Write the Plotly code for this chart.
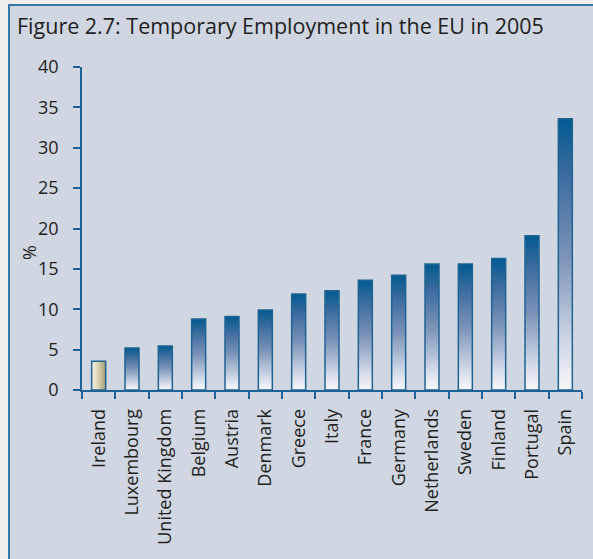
import plotly.graph_objects as go

# Temporary employment as a share of total employment, 2005 (%)
countries = ["Ireland", "Luxembourg", "United Kingdom", "Belgium", "Austria",
             "Denmark", "Greece", "Italy", "France", "Germany", "Netherlands",
             "Sweden", "Finland", "Portugal", "Spain"]
values = [3.55, 5.2, 5.45, 8.8, 9.1, 9.9, 11.9, 12.3, 13.6, 14.2, 15.6,
          15.6, 16.3, 19.1, 33.6]
highlight = "Ireland"
y_ticks = [0, 5, 10, 15, 20, 25, 30, 35, 40]

FONT = "Open Sans"
TEXT = "#231f20"
AXIS = "#1d6197"
PANEL = "#d0d7e3"
OUTER = "#efeeea"
HALF_W = 0.21

blue_scale = [[0.0, "#f7f8fb"], [0.15, "#d6dcea"], [0.5, "#7a92b8"],
              [0.8, "#3a6b9e"], [1.0, "#005a91"]]
beige_scale = [[0.0, "#f6f4e8"], [0.5, "#d6d0b0"], [1.0, "#a89d6c"]]

fig = go.Figure()

for i, (name, v) in enumerate(zip(countries, values)):
    xs = [i - HALF_W, i - HALF_W, i + HALF_W, i + HALF_W, i - HALF_W]
    ys = [0, v, v, 0, 0]
    if name == highlight:
        grad = dict(type="horizontal", colorscale=beige_scale)
    else:
        grad = dict(type="vertical", colorscale=blue_scale)
    fig.add_trace(go.Scatter(
        x=xs, y=ys, mode="lines", fill="toself", fillgradient=grad,
        line=dict(color="#1f6393", width=1.5), hoverinfo="skip",
        showlegend=False))

# Panel with a blue frame on its left and top edges
fig.add_shape(type="rect", xref="paper", yref="paper",
              x0=(9 - 82) / 500, x1=2.0, y0=-2.0, y1=(390 - 5) / 323,
              fillcolor=PANEL, line=dict(color="#3579ad", width=2),
              layer="below")

fig.add_annotation(text="%", xref="paper", yref="paper",
                   x=(29 - 82) / 500, y=(390 - 253) / 323, textangle=-90,
                   xanchor="center", yanchor="middle",
                   showarrow=False, font=dict(family=FONT, size=18, color=TEXT))

fig.update_layout(
    width=593, height=559,
    margin=dict(l=82, r=11, t=67, b=169),
    paper_bgcolor=OUTER, plot_bgcolor="rgba(0,0,0,0)",
    font=dict(family=FONT, color=TEXT),
    title=dict(text="Figure 2.7: Temporary Employment in the EU in 2005",
               xref="container", yref="container", x=17 / 593,
               y=1 - 26 / 559, xanchor="left", yanchor="middle",
               font=dict(family=FONT, size=21.5, color=TEXT)),
    xaxis=dict(range=[-0.5, 14.5], tickmode="array",
               tickvals=list(range(len(countries))), ticktext=countries,
               tickangle=-90, ticks="", showgrid=False, zeroline=False,
               showline=True, linecolor=AXIS, linewidth=1.5,
               ticklabelstandoff=10,
               tickfont=dict(family=FONT, size=18, color=TEXT),
               minor=dict(tickmode="linear", tick0=-0.5, dtick=1,
                          ticks="outside", ticklen=7, tickcolor=AXIS,
                          tickwidth=1.5, showgrid=False)),
    yaxis=dict(range=[0, 40], tickmode="array", tickvals=y_ticks,
               ticks="outside", ticklen=7, tickcolor=AXIS, tickwidth=1.5,
               showgrid=False, zeroline=False, showline=True,
               linecolor=AXIS, linewidth=1.5, ticklabelstandoff=11,
               tickfont=dict(family=FONT, size=18, color=TEXT)),
)

fig.write_html("out.html")
